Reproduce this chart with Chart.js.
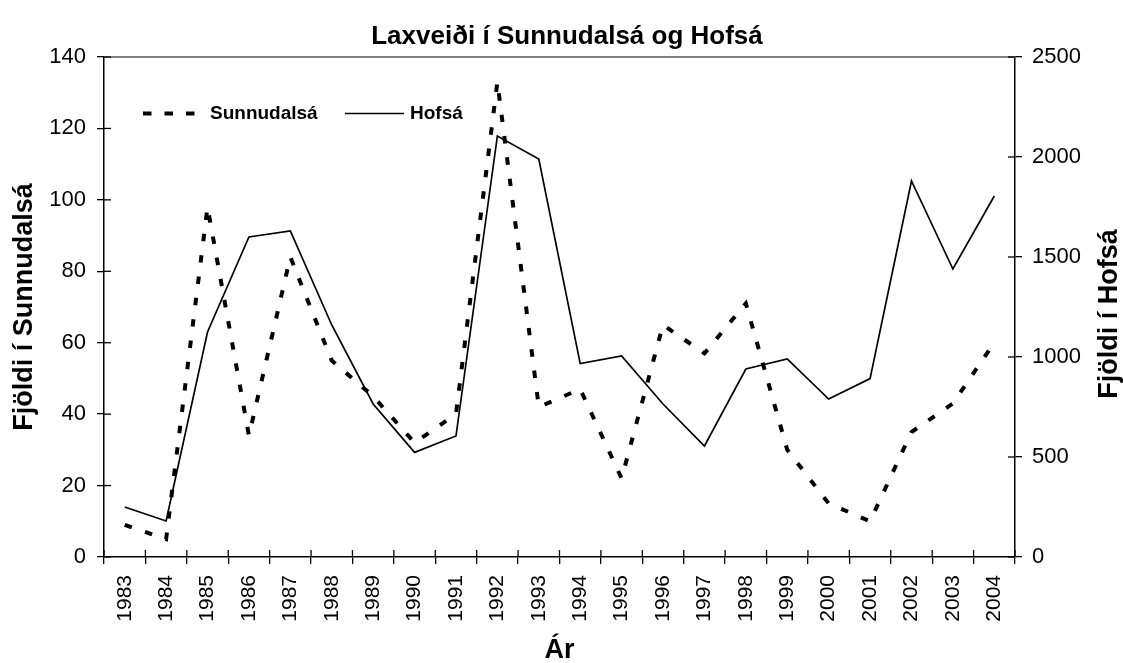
<!DOCTYPE html>
<html><head><meta charset="utf-8">
<script src="https://cdn.jsdelivr.net/npm/chart.js@4.4.1/dist/chart.umd.min.js"></script>
<style>html,body{margin:0;padding:0;background:#fff}#wrap{width:1123px;height:663px}</style>
</head><body><div id="wrap"><canvas id="c" width="1123" height="663"></canvas></div>
<script>
const years = ['1983','1984','1985','1986','1987','1988','1989','1990','1991','1992','1993','1994','1995','1996','1997','1998','1999','2000','2001','2002','2003','2004'];
const sunnudalsa = [9, 5, 98, 34, 84, 55, 45, 32, 40, 133, 42, 47, 22, 65, 57, 71, 30, 15, 10, 35, 43, 60];
const hofsa = [250, 180, 1125, 1600, 1630, 1160, 765, 523, 605, 2105, 1990, 967, 1005, 765, 555, 940, 990, 790, 892, 1880, 1440, 1805];
const chartTitle = 'Laxveiði í Sunnudalsá og Hofsá';
const xTitle = 'Ár';
const leftTitle = 'Fjöldi í Sunnudalsá';
const rightTitle = 'Fjöldi í Hofsá';
const seriesNames = ['Sunnudalsá', 'Hofsá'];

const FAM = "'Liberation Sans', Arial, Helvetica, sans-serif";
Chart.defaults.font.family = FAM;
Chart.defaults.color = '#000';

function seg(ctx, x1, y1, x2, y2) { ctx.beginPath(); ctx.moveTo(x1, y1); ctx.lineTo(x2, y2); ctx.stroke(); }

const decor = {
  id: 'decor',
  afterDraw(chart) {
    const {ctx, chartArea: a, scales} = chart;
    ctx.save();
    // chart title
    ctx.font = "bold 26px " + FAM;
    ctx.fillStyle = '#000'; ctx.textAlign = 'center'; ctx.textBaseline = 'middle';
    ctx.fillText(chartTitle, 567, 37);
    // top border
    ctx.strokeStyle = '#808080'; ctx.lineWidth = 2;
    seg(ctx, a.left, a.top, a.right, a.top);
    // inner tick halves
    ctx.strokeStyle = '#000'; ctx.lineWidth = 1.3;
    scales.y.ticks.forEach(t => { const py = scales.y.getPixelForValue(t.value); seg(ctx, a.left, py, a.left + 7, py); });
    scales.y1.ticks.forEach(t => { const py = scales.y1.getPixelForValue(t.value); seg(ctx, a.right - 7, py, a.right, py); });
    for (let i = 0; i <= years.length; i++) {
      const px = scales.x.getPixelForValue(i - 0.5);
      seg(ctx, px, a.bottom - 7, px, a.bottom);
    }
    // legend inside plot
    const ds = chart.data.datasets;
    const ly = 113.5;
    ctx.font = "bold 19px " + FAM;
    ctx.textBaseline = 'middle'; ctx.textAlign = 'left'; ctx.fillStyle = '#000';
    ctx.strokeStyle = ds[0].borderColor; ctx.lineWidth = ds[0].borderWidth; ctx.setLineDash([8.5, 13]);
    seg(ctx, 143, ly, 198, ly);
    ctx.setLineDash([]);
    ctx.fillText(ds[0].label, 210, ly);
    ctx.strokeStyle = ds[1].borderColor; ctx.lineWidth = ds[1].borderWidth;
    seg(ctx, 345, ly, 404, ly);
    ctx.fillText(ds[1].label, 410, ly);
    // right axis title (reads upward)
    ctx.font = "bold 27px " + FAM;
    ctx.textAlign = 'center'; ctx.textBaseline = 'middle';
    ctx.translate(1110, 314);
    ctx.rotate(-Math.PI / 2);
    ctx.fillText(rightTitle, 0, 0);
    ctx.restore();
  }
};

new Chart(document.getElementById('c'), {
  type: 'line',
  data: {
    labels: years,
    datasets: [
      { label: seriesNames[0], data: sunnudalsa, yAxisID: 'y', borderColor: '#000', borderWidth: 4, borderDash: [7.5, 14], pointRadius: 0, tension: 0, fill: false },
      { label: seriesNames[1], data: hofsa, yAxisID: 'y1', borderColor: '#000', borderWidth: 1.7, pointRadius: 0, tension: 0, fill: false }
    ]
  },
  options: {
    responsive: false,
    animation: false,
    devicePixelRatio: 1,
    layout: { padding: { top: 57, left: 0, right: 0, bottom: 0 } },
    plugins: {
      legend: { display: false },
      tooltip: { enabled: false },
      title: { display: false }
    },
    scales: {
      x: {
        type: 'category', offset: true,
        grid: { display: true, drawOnChartArea: false, drawTicks: true, tickLength: 7, color: '#000', lineWidth: 1.3, offset: true },
        border: { display: true, color: '#000', width: 1.5 },
        ticks: { autoSkip: false, maxRotation: 90, minRotation: 90, padding: 11, font: { size: 21, family: FAM }, color: '#000' },
        title: { display: true, text: xTitle, color: '#000', font: { size: 27, weight: 'bold', family: FAM }, padding: { top: 0, bottom: -4 } },
        afterFit(s) { s.height = 106; }
      },
      y: {
        position: 'left', min: 0, max: 140,
        grid: { display: true, drawOnChartArea: false, drawTicks: true, tickLength: 7, color: '#000', lineWidth: 1.3 },
        border: { display: true, color: '#000', width: 1.5 },
        ticks: { stepSize: 20, padding: 11, font: { size: 22, family: FAM }, color: '#000' },
        title: { display: true, text: leftTitle, color: '#000', font: { size: 27, weight: 'bold', family: FAM }, padding: { top: 8, bottom: 0 } },
        afterFit(s) { s.width = 104; }
      },
      y1: {
        position: 'right', min: 0, max: 2500,
        grid: { display: true, drawOnChartArea: false, drawTicks: true, tickLength: 7, color: '#000', lineWidth: 1.3 },
        border: { display: true, color: '#000', width: 1.5 },
        ticks: { stepSize: 500, padding: 10, font: { size: 22, family: FAM }, color: '#000', callback: v => String(v) },
        title: { display: false },
        afterFit(s) { s.width = 108; }
      }
    }
  },
  plugins: [decor]
});
</script>
</body></html>
